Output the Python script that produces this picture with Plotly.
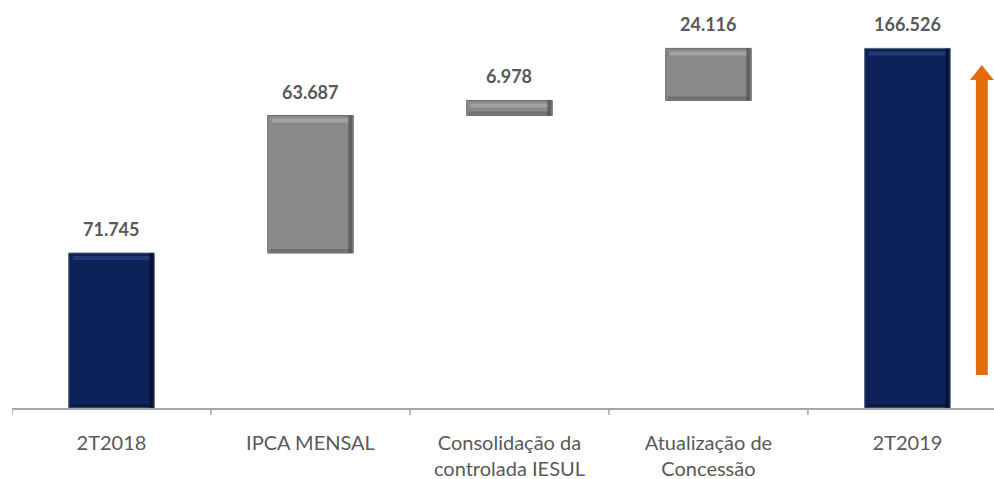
import plotly.graph_objects as go

# Waterfall data (R$ mil)
categories = ["2T2018", "IPCA MENSAL", "Consolidação da<br>controlada IESUL",
              "Atualização de<br>Concessão", "2T2019"]
measures = ["absolute", "relative", "relative", "relative", "total"]
values = [71745, 63687, 6978, 24116, 0]

# running totals: bottom and top of every bar
bottoms, tops = [], []
running = 0
for m, v in zip(measures, values):
    if m == "absolute":
        bottoms.append(0)
        running = v
    elif m == "relative":
        bottoms.append(running)
        running += v
    else:
        bottoms.append(0)
    tops.append(running)
label_vals = [values[0], values[1], values[2], values[3], tops[-1]]
labels = [f"{v:,}".replace(",", ".") for v in label_vals]

NAVY = "#0c2258"
GRAY = "#8a8a8a"
TXT = "#595959"
FONT = "Lato, Open Sans, sans-serif"
BAR_W = 0.43

fig = go.Figure(go.Waterfall(
    x=list(range(len(categories))),
    measure=measures,
    y=values,
    width=BAR_W,
    connector=dict(visible=False),
    increasing=dict(marker=dict(color=GRAY, line=dict(color="#6a6a6a", width=1))),
    totals=dict(marker=dict(color=NAVY, line=dict(color="#56607a", width=1))),
    decreasing=dict(marker=dict(color=GRAY)),
    hoverinfo="skip",
    showlegend=False,
))

# bevel look: light band under the top edge, dark band on right and bottom edges
for i, (m, b, t) in enumerate(zip(measures, bottoms, tops)):
    is_total = m != "relative"
    light = "#2c4a88" if is_total else "#b4b4b4"
    dark = "#040c22" if is_total else "#474747"
    xl, xr = i - BAR_W / 2, i + BAR_W / 2
    fig.add_shape(type="rect", xref="x", yref="y", ysizemode="pixel", yanchor=t,
                  x0=xl + 0.02, x1=xr - 0.02, y0=-3, y1=-7,
                  fillcolor=light, line=dict(width=0), opacity=0.6)
    fig.add_shape(type="rect", xref="x", yref="y", xsizemode="pixel", xanchor=xr,
                  x0=-5, x1=-1, y0=b, y1=t,
                  fillcolor=dark, line=dict(width=0), opacity=0.6)
    fig.add_shape(type="rect", xref="x", yref="y", ysizemode="pixel", yanchor=b,
                  x0=xl + 0.01, x1=xr - 0.01, y0=1, y1=4,
                  fillcolor=dark, line=dict(width=0), opacity=0.4)

for i, (top, lab) in enumerate(zip(tops, labels)):
    fig.add_annotation(x=i, y=top, text=f"<b>{lab}</b>", showarrow=False,
                       yanchor="bottom", yshift=11,
                       font=dict(family=FONT, size=18, color=TXT))

# orange growth arrow at the right side
ARROW = "#e46c0a"
ax = 4.374
y0, y1 = 15300, 158800
head = 6900
fig.add_shape(type="rect", x0=ax - 0.030, x1=ax + 0.030, y0=y0, y1=y1 - head,
              fillcolor=ARROW, line=dict(width=0), layer="above")
fig.add_shape(type="path",
              path=f"M {ax - 0.06} {y1 - head} L {ax + 0.06} {y1 - head} L {ax} {y1} Z",
              fillcolor=ARROW, line=dict(width=0), layer="above")

fig.update_layout(
    width=994, height=479,
    margin=dict(l=12, r=0, t=10, b=71),
    plot_bgcolor="white", paper_bgcolor="white",
    xaxis=dict(
        range=[-0.5, 4.435],
        tickmode="array", tickvals=list(range(len(categories))), ticktext=categories,
        showline=True, linecolor="#a6a6a6", linewidth=2,
        ticks="", showgrid=False, zeroline=False,
        tickfont=dict(family=FONT, size=20, color=TXT),
        ticklabelstandoff=16,
    ),
    yaxis=dict(range=[0, 184300], visible=False, showgrid=False, zeroline=False),
)

# short tick marks at the category boundaries
for k in range(len(categories)):
    fig.add_shape(type="line", xref="x", yref="paper", ysizemode="pixel", yanchor=0,
                  x0=k - 0.5, x1=k - 0.5, y0=0, y1=-7,
                  line=dict(color="#a6a6a6", width=1.5))

fig.write_html("out.html")
